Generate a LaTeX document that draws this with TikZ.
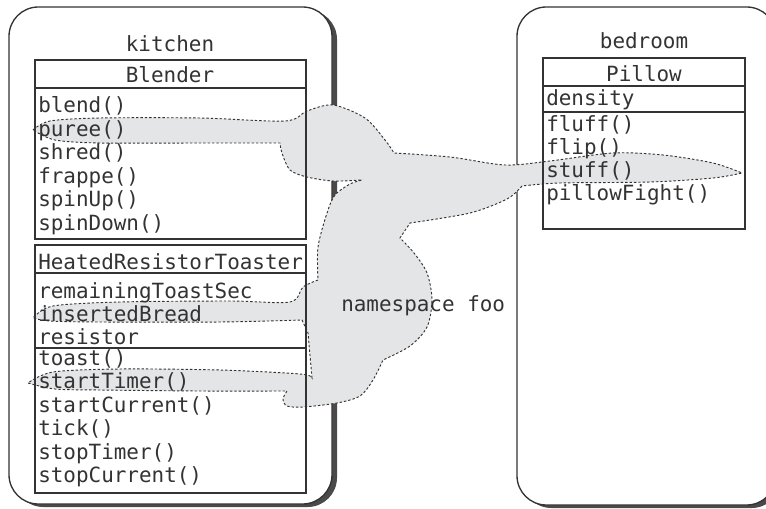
\documentclass[tikz,border=0pt]{standalone}
\usepackage{fontspec}
\setmonofont{DejaVu Sans Mono}
\definecolor{ink}{HTML}{333333}
\definecolor{nsfill}{HTML}{E4E5E7}
\definecolor{shade}{HTML}{4A4A4A}
\begin{document}
\begin{tikzpicture}[x=0.75pt,y=-0.75pt,
		lbl/.style={anchor=base west,inner sep=0pt,text=ink,font=\ttfamily\fontsize{15.7}{18}\selectfont},
		hdr/.style={lbl,anchor=base},
		pkg/.style={draw=ink,line width=1pt,fill=white,rounded corners=22pt},
		pkgshadow/.style={fill=shade,rounded corners=22pt},
		classbox/.style={draw=ink,line width=0.9pt},
		nsblob/.style={fill=nsfill,draw=ink,line width=0.7pt,dash pattern=on 1.8pt off 1.5pt}]
		\useasboundingbox (0,0) rectangle (766,509);
		% packages
		\fill[pkgshadow] (14,10) rectangle (337,507);
		\draw[pkg] (9,7) rectangle (332,504);
		\fill[pkgshadow] (522,10) rectangle (781,508);
		\draw[pkg] (517,7) rectangle (776,505);
		% namespace foo
		\draw[nsblob] plot[smooth] coordinates {(33,130) (50,121) (100,118) (200,118) (285,121) (307,111) (333,105) (365,118) (385,140) (394,153)}
			-- plot[smooth] coordinates {(394,153) (450,157) (505,165) (550,161) (613,153) (663,155) (713,163) (742,173)}
			-- plot[smooth] coordinates {(742,173) (713,178) (650,182) (560,183) (522,186)}
			-- plot[smooth] coordinates {(522,186) (507,199) (470,213) (410,223)}
			-- (400,238)
			-- plot[smooth] coordinates {(400,238) (414,253) (427,273) (432,300) (427,327) (410,346) (383,360)}
			-- plot[smooth] coordinates {(383,360) (373,380) (360,396) (337,403) (303,407) (287,406) (283,399) (287,391)}
			-- plot[smooth] coordinates {(287,391) (200,391) (100,390) (55,389) (28,383)}
			-- plot[smooth] coordinates {(28,383) (53,372) (120,369) (220,370) (300,374) (312,378)}
			-- (308,333) -- (302,320)
			-- plot[smooth] coordinates {(302,320) (220,322) (100,322) (50,321) (33,318)}
			-- plot[smooth] coordinates {(33,318) (53,306) (120,302) (230,301) (290,302) (303,287) (318,280)}
			-- plot[smooth] coordinates {(318,280) (318,247) (327,213) (335,195) (350,184) (362,180)}
			-- plot[smooth] coordinates {(362,180) (333,181) (307,177) (290,170) (282,153) (280,143)}
			-- plot[smooth] coordinates {(280,143) (200,143) (100,143) (55,140) (33,130)} -- cycle;
		\node[lbl] (nsfoo) at (341,311) {namespace foo};
		% kitchen
		\node[hdr] (kitchen) at (170,52) {kitchen};
		\draw[classbox] (35,60) rectangle (306,239);
		\draw[classbox] (35,88) -- (306,88);
		\node[hdr] (blender) at (170,83) {Blender};
		\node[lbl] (blend) at (38,113) {blend()};
		\node[lbl] (puree) at (38,136.5) {puree()};
		\node[lbl] (shred) at (38,160) {shred()};
		\node[lbl] (frappe) at (38,183.5) {frappe()};
		\node[lbl] (spinup) at (38,207) {spinUp()};
		\node[lbl] (spindown) at (38,230.5) {spinDown()};
		\draw[classbox] (35,245) rectangle (306,493);
		\draw[classbox] (35,273) -- (306,273);
		\draw[classbox] (35,348) -- (306,348);
		\node[lbl] (toaster) at (38,269) {HeatedResistorToaster};
		\node[lbl] (remaining) at (38,298) {remainingToastSec};
		\node[lbl] (inserted) at (38,321) {insertedBread};
		\node[lbl] (resistor) at (38,344.5) {resistor};
		\node[lbl] (toast) at (38,365) {toast()};
		\node[lbl] (starttimer) at (38,388.5) {startTimer()};
		\node[lbl] (startcurrent) at (38,412) {startCurrent()};
		\node[lbl] (tick) at (38,435.5) {tick()};
		\node[lbl] (stoptimer) at (38,459) {stopTimer()};
		\node[lbl] (stopcurrent) at (38,482.5) {stopCurrent()};
		% bedroom
		\node[hdr] (bedroom) at (644,49) {bedroom};
		\draw[classbox] (543,58) rectangle (745,229);
		\draw[classbox] (543,86) -- (745,86);
		\draw[classbox] (543,112) -- (745,112);
		\node[hdr] (pillow) at (644,82) {Pillow};
		\node[lbl] (density) at (546,106) {density};
		\node[lbl] (fluff) at (546,132) {fluff()};
		\node[lbl] (flip) at (546,155) {flip()};
		\node[lbl] (stuff) at (546,178) {stuff()};
		\node[lbl] (pillowfight) at (546,201) {pillowFight()};
	\end{tikzpicture}
\end{document}
